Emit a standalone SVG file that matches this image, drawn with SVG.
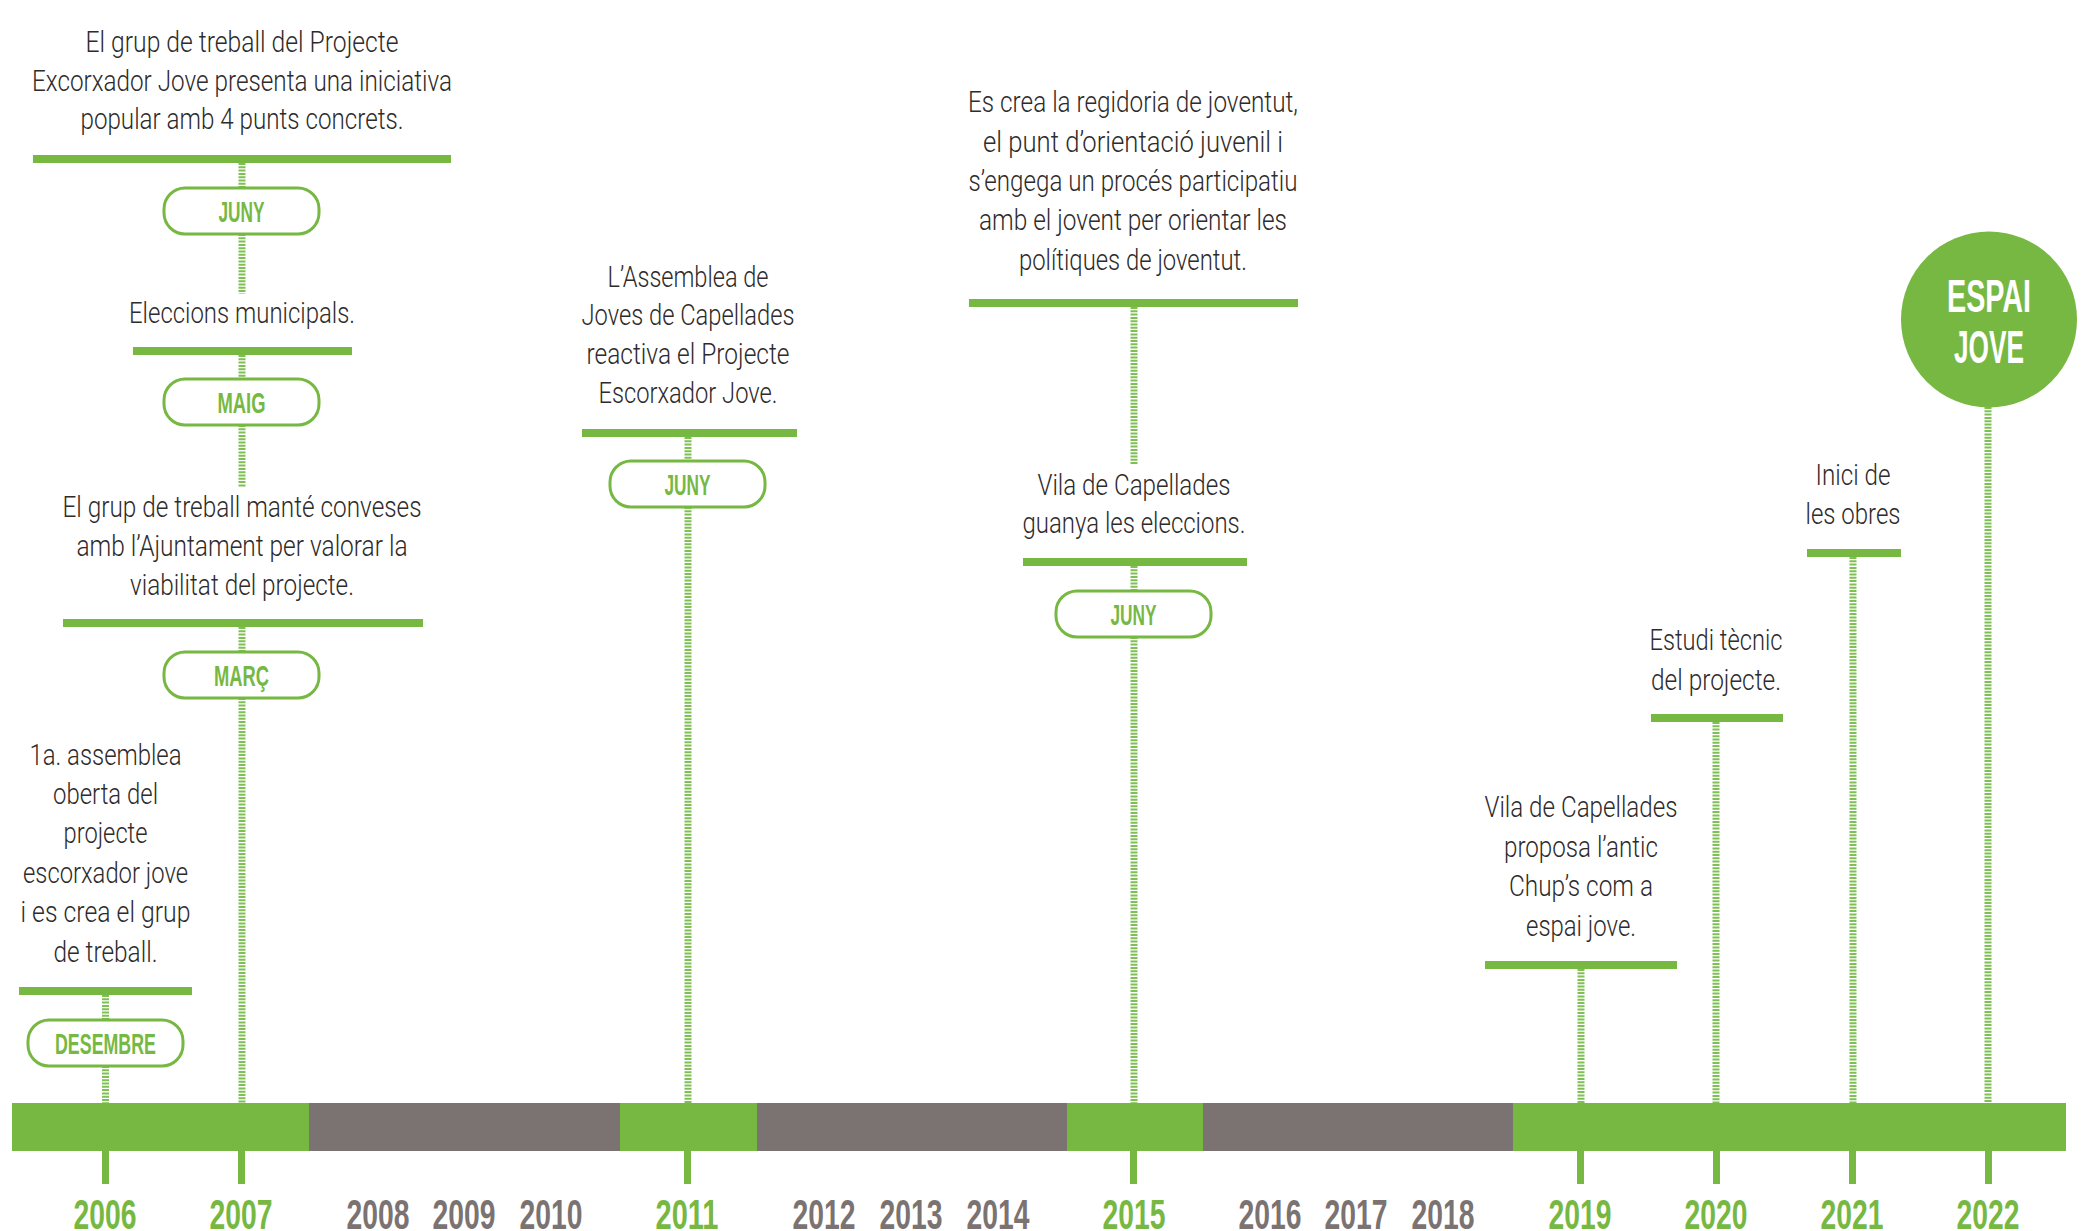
<svg xmlns="http://www.w3.org/2000/svg" width="2085" height="1231" viewBox="0 0 2085 1231">
<style>
.t{font-family:Roboto,"Liberation Sans",sans-serif;font-weight:300;font-size:30px;fill:#2e2b2b;text-anchor:middle}
.p{font-family:"Liberation Sans",Roboto,sans-serif;font-weight:700;font-size:30px;fill:#77b843;text-anchor:middle}
.y{font-family:"Liberation Sans",Roboto,sans-serif;font-weight:700;font-size:43px;text-anchor:middle}
.yg{fill:#77b843}
.yq{fill:#7b7372}
.bar{fill:#77b843}
.pill{fill:#fff;stroke:#77b843;stroke-width:3}
.dash{stroke:#7fc055;stroke-width:7;stroke-dasharray:2 1.3;fill:none}
.tick{fill:#77b843}
.big{font-family:"Liberation Sans",Roboto,sans-serif;font-weight:700;font-size:46px;fill:#fff;text-anchor:middle}
</style>

<g id="connectors">
  <!-- 2006 -->
  <line class="dash" x1="105.5" y1="995" x2="105.5" y2="1020"/>
  <line class="dash" x1="105.5" y1="1066" x2="105.5" y2="1103"/>
  <!-- 2007 -->
  <line class="dash" x1="242" y1="163" x2="242" y2="188"/>
  <line class="dash" x1="242" y1="234" x2="242" y2="294"/>
  <line class="dash" x1="242" y1="355" x2="242" y2="379"/>
  <line class="dash" x1="242" y1="425" x2="242" y2="487"/>
  <line class="dash" x1="242" y1="627" x2="242" y2="652"/>
  <line class="dash" x1="242" y1="698" x2="242" y2="1103"/>
  <!-- 2011 -->
  <line class="dash" x1="688" y1="437" x2="688" y2="461"/>
  <line class="dash" x1="688" y1="507" x2="688" y2="1103"/>
  <!-- 2015 -->
  <line class="dash" x1="1134" y1="307" x2="1134" y2="465"/>
  <line class="dash" x1="1134" y1="566" x2="1134" y2="591"/>
  <line class="dash" x1="1134" y1="637" x2="1134" y2="1103"/>
  <!-- 2019 -->
  <line class="dash" x1="1581" y1="969" x2="1581" y2="1103"/>
  <!-- 2020 -->
  <line class="dash" x1="1716" y1="722" x2="1716" y2="1103"/>
  <!-- 2021 -->
  <line class="dash" x1="1853" y1="557" x2="1853" y2="1103"/>
  <!-- 2022 -->
  <line class="dash" x1="1988" y1="407" x2="1988" y2="1103"/>
</g>

<g id="timeline">
  <rect x="12" y="1103" width="297" height="48" fill="#77b843"/>
  <rect x="309" y="1103" width="311" height="48" fill="#7b7372"/>
  <rect x="620" y="1103" width="137" height="48" fill="#77b843"/>
  <rect x="757" y="1103" width="310" height="48" fill="#7b7372"/>
  <rect x="1067" y="1103" width="136" height="48" fill="#77b843"/>
  <rect x="1203" y="1103" width="310" height="48" fill="#7b7372"/>
  <rect x="1513" y="1103" width="553" height="48" fill="#77b843"/>
  <rect class="tick" x="102" y="1151" width="7" height="33"/>
  <rect class="tick" x="238" y="1151" width="7" height="33"/>
  <rect class="tick" x="684" y="1151" width="7" height="33"/>
  <rect class="tick" x="1130" y="1151" width="7" height="33"/>
  <rect class="tick" x="1577" y="1151" width="7" height="33"/>
  <rect class="tick" x="1713" y="1151" width="7" height="33"/>
  <rect class="tick" x="1849" y="1151" width="7" height="33"/>
  <rect class="tick" x="1985" y="1151" width="7" height="33"/>
  <text class="y yg" x="105" y="1229" textLength="63" lengthAdjust="spacingAndGlyphs">2006</text>
  <text class="y yg" x="241" y="1229" textLength="63" lengthAdjust="spacingAndGlyphs">2007</text>
  <text class="y yq" x="378" y="1229" textLength="63" lengthAdjust="spacingAndGlyphs">2008</text>
  <text class="y yq" x="464" y="1229" textLength="63" lengthAdjust="spacingAndGlyphs">2009</text>
  <text class="y yq" x="551" y="1229" textLength="63" lengthAdjust="spacingAndGlyphs">2010</text>
  <text class="y yg" x="687" y="1229" textLength="63" lengthAdjust="spacingAndGlyphs">2011</text>
  <text class="y yq" x="824" y="1229" textLength="63" lengthAdjust="spacingAndGlyphs">2012</text>
  <text class="y yq" x="911" y="1229" textLength="63" lengthAdjust="spacingAndGlyphs">2013</text>
  <text class="y yq" x="998" y="1229" textLength="63" lengthAdjust="spacingAndGlyphs">2014</text>
  <text class="y yg" x="1134" y="1229" textLength="63" lengthAdjust="spacingAndGlyphs">2015</text>
  <text class="y yq" x="1270" y="1229" textLength="63" lengthAdjust="spacingAndGlyphs">2016</text>
  <text class="y yq" x="1356" y="1229" textLength="63" lengthAdjust="spacingAndGlyphs">2017</text>
  <text class="y yq" x="1443" y="1229" textLength="63" lengthAdjust="spacingAndGlyphs">2018</text>
  <text class="y yg" x="1580" y="1229" textLength="63" lengthAdjust="spacingAndGlyphs">2019</text>
  <text class="y yg" x="1716" y="1229" textLength="63" lengthAdjust="spacingAndGlyphs">2020</text>
  <text class="y yg" x="1852" y="1229" textLength="63" lengthAdjust="spacingAndGlyphs">2021</text>
  <text class="y yg" x="1988" y="1229" textLength="63" lengthAdjust="spacingAndGlyphs">2022</text>
</g>

<g id="node-2007-iniciativa">
  <text class="t" x="242" y="52" textLength="313" lengthAdjust="spacingAndGlyphs">El grup de treball del Projecte</text>
  <text class="t" x="242" y="91" textLength="420" lengthAdjust="spacingAndGlyphs">Excorxador Jove presenta una iniciativa</text>
  <text class="t" x="242" y="129" textLength="323" lengthAdjust="spacingAndGlyphs">popular amb 4 punts concrets.</text>
  <rect class="bar" x="33" y="155" width="418" height="8"/>
</g>
<g id="pill-2007-juny">
  <rect class="pill" x="164" y="188" width="155" height="46" rx="21"/>
  <text class="p" x="241.5" y="222" textLength="46" lengthAdjust="spacingAndGlyphs">JUNY</text>
</g>

<g id="node-2007-eleccions">
  <text class="t" x="242" y="323" textLength="226" lengthAdjust="spacingAndGlyphs">Eleccions municipals.</text>
  <rect class="bar" x="133" y="347" width="219" height="8"/>
</g>
<g id="pill-2007-maig">
  <rect class="pill" x="164" y="379" width="155" height="46" rx="21"/>
  <text class="p" x="241.5" y="413" textLength="48" lengthAdjust="spacingAndGlyphs">MAIG</text>
</g>

<g id="node-2007-converses">
  <text class="t" x="242" y="517" textLength="359" lengthAdjust="spacingAndGlyphs">El grup de treball manté conveses</text>
  <text class="t" x="242" y="556" textLength="331" lengthAdjust="spacingAndGlyphs">amb l’Ajuntament per valorar la</text>
  <text class="t" x="242" y="595" textLength="224" lengthAdjust="spacingAndGlyphs">viabilitat del projecte.</text>
  <rect class="bar" x="63" y="619" width="360" height="8"/>
</g>
<g id="pill-2007-marc">
  <rect class="pill" x="164" y="652" width="155" height="46" rx="21"/>
  <text class="p" x="241.5" y="686" textLength="55" lengthAdjust="spacingAndGlyphs">MARÇ</text>
</g>

<g id="node-2006">
  <text class="t" x="105.5" y="765" textLength="152" lengthAdjust="spacingAndGlyphs">1a. assemblea</text>
  <text class="t" x="105.5" y="804" textLength="105" lengthAdjust="spacingAndGlyphs">oberta del</text>
  <text class="t" x="105.5" y="843" textLength="84" lengthAdjust="spacingAndGlyphs">projecte</text>
  <text class="t" x="105.5" y="883" textLength="165" lengthAdjust="spacingAndGlyphs">escorxador jove</text>
  <text class="t" x="105.5" y="922" textLength="170" lengthAdjust="spacingAndGlyphs">i es crea el grup</text>
  <text class="t" x="105.5" y="962" textLength="104" lengthAdjust="spacingAndGlyphs">de treball.</text>
  <rect class="bar" x="19" y="987" width="173" height="8"/>
</g>
<g id="pill-2006-desembre">
  <rect class="pill" x="28" y="1020" width="155" height="46" rx="21"/>
  <text class="p" x="105.5" y="1054" textLength="101" lengthAdjust="spacingAndGlyphs">DESEMBRE</text>
</g>

<g id="node-2011">
  <text class="t" x="688" y="287" textLength="161" lengthAdjust="spacingAndGlyphs">L’Assemblea de</text>
  <text class="t" x="688" y="325" textLength="213" lengthAdjust="spacingAndGlyphs">Joves de Capellades</text>
  <text class="t" x="688" y="364" textLength="203" lengthAdjust="spacingAndGlyphs">reactiva el Projecte</text>
  <text class="t" x="688" y="403" textLength="179" lengthAdjust="spacingAndGlyphs">Escorxador Jove.</text>
  <rect class="bar" x="582" y="429" width="215" height="8"/>
</g>
<g id="pill-2011-juny">
  <rect class="pill" x="610" y="461" width="155" height="46" rx="21"/>
  <text class="p" x="687.5" y="495" textLength="46" lengthAdjust="spacingAndGlyphs">JUNY</text>
</g>

<g id="node-2015-regidoria">
  <text class="t" x="1133" y="112" textLength="330" lengthAdjust="spacingAndGlyphs">Es crea la regidoria de joventut,</text>
  <text class="t" x="1133" y="152" textLength="300" lengthAdjust="spacingAndGlyphs">el punt d’orientació juvenil i</text>
  <text class="t" x="1133" y="191" textLength="329" lengthAdjust="spacingAndGlyphs">s’engega un procés participatiu</text>
  <text class="t" x="1133" y="230" textLength="308" lengthAdjust="spacingAndGlyphs">amb el jovent per orientar les</text>
  <text class="t" x="1133" y="270" textLength="228" lengthAdjust="spacingAndGlyphs">polítiques de joventut.</text>
  <rect class="bar" x="969" y="299" width="329" height="8"/>
</g>

<g id="node-2015-eleccions">
  <text class="t" x="1134" y="495" textLength="193" lengthAdjust="spacingAndGlyphs">Vila de Capellades</text>
  <text class="t" x="1134" y="533" textLength="223" lengthAdjust="spacingAndGlyphs">guanya les eleccions.</text>
  <rect class="bar" x="1023" y="558" width="224" height="8"/>
</g>
<g id="pill-2015-juny">
  <rect class="pill" x="1056" y="591" width="155" height="46" rx="21"/>
  <text class="p" x="1133.5" y="625" textLength="46" lengthAdjust="spacingAndGlyphs">JUNY</text>
</g>

<g id="node-2019">
  <text class="t" x="1581" y="817" textLength="193" lengthAdjust="spacingAndGlyphs">Vila de Capellades</text>
  <text class="t" x="1581" y="857" textLength="154" lengthAdjust="spacingAndGlyphs">proposa l’antic</text>
  <text class="t" x="1581" y="896" textLength="144" lengthAdjust="spacingAndGlyphs">Chup’s com a</text>
  <text class="t" x="1581" y="936" textLength="110" lengthAdjust="spacingAndGlyphs">espai jove.</text>
  <rect class="bar" x="1485" y="961" width="192" height="8"/>
</g>

<g id="node-2020">
  <text class="t" x="1716" y="650" textLength="133" lengthAdjust="spacingAndGlyphs">Estudi tècnic</text>
  <text class="t" x="1716" y="690" textLength="130" lengthAdjust="spacingAndGlyphs">del projecte.</text>
  <rect class="bar" x="1651" y="714" width="132" height="8"/>
</g>

<g id="node-2021">
  <text class="t" x="1853" y="485" textLength="75" lengthAdjust="spacingAndGlyphs">Inici de</text>
  <text class="t" x="1853" y="524" textLength="95" lengthAdjust="spacingAndGlyphs">les obres</text>
  <rect class="bar" x="1807" y="549" width="94" height="8"/>
</g>

<g id="node-2022-espai-jove">
  <circle cx="1989" cy="319.5" r="88" fill="#77b843"/>
  <text class="big" x="1989" y="312" textLength="84" lengthAdjust="spacingAndGlyphs">ESPAI</text>
  <text class="big" x="1989" y="363" textLength="70" lengthAdjust="spacingAndGlyphs">JOVE</text>
</g>
</svg>
